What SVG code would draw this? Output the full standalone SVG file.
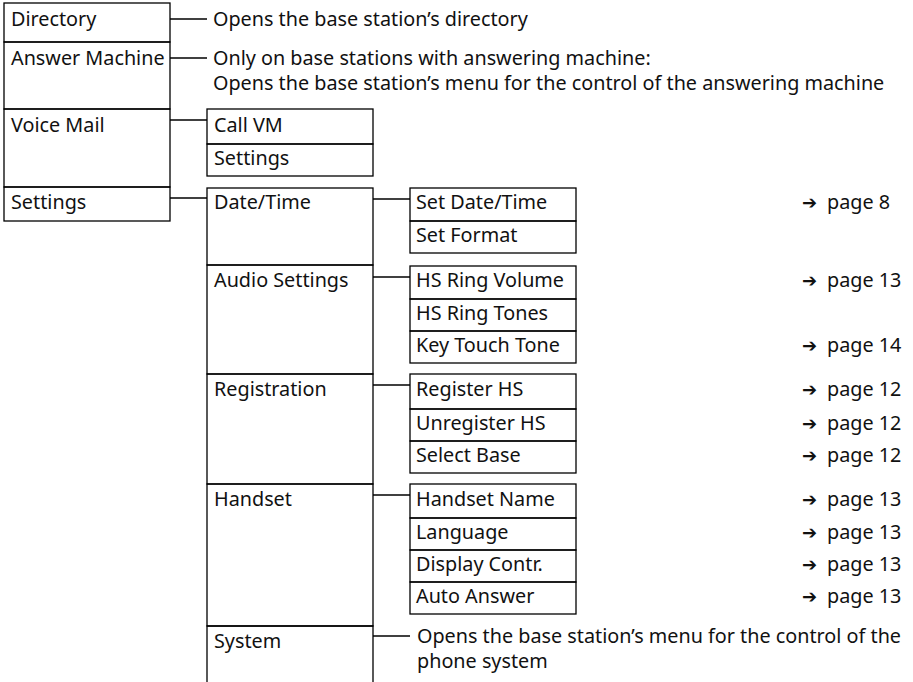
<svg xmlns="http://www.w3.org/2000/svg" width="913" height="682" viewBox="0 0 913 682">
<style>
.b{fill:none;stroke:#000;stroke-width:1.3}
.c line{stroke:#000;stroke-width:1.3}
text{font-family:"Noto Sans","Open Sans","DejaVu Sans",sans-serif;font-size:19.8px;fill:#111}
.a{font-family:"DejaVu Sans",sans-serif;font-size:18px}
</style>
<rect width="913" height="682" fill="#fff"/>
<g id="connectors" class="c">
<line x1="170" y1="19" x2="207" y2="19"/>
<line x1="170" y1="58" x2="207" y2="58"/>
<line x1="170" y1="120" x2="207" y2="120"/>
<line x1="170" y1="198" x2="207" y2="198"/>
<line x1="373" y1="199" x2="410" y2="199"/>
<line x1="373" y1="277" x2="410" y2="277"/>
<line x1="373" y1="385" x2="410" y2="385"/>
<line x1="373" y1="495" x2="410" y2="495"/>
<line x1="373" y1="636" x2="410" y2="636"/>
</g>
<g id="directory"><rect class="b" x="4" y="3" width="166" height="39"/><text x="11" y="26">Directory</text></g>
<g id="directory-desc"><text x="213" y="26">Opens the base station’s directory</text></g>
<g id="answer-machine"><rect class="b" x="4" y="42" width="166" height="67"/><text x="11" y="65">Answer Machine</text></g>
<g id="answer-machine-desc"><text x="213" y="65">Only on base stations with answering machine:</text><text x="213" y="90">Opens the base station’s menu for the control of the answering machine</text></g>
<g id="voice-mail"><rect class="b" x="4" y="109" width="166" height="78"/><text x="11" y="132">Voice Mail</text></g>
<g id="settings"><rect class="b" x="4" y="187" width="166" height="34"/><text x="11" y="209">Settings</text></g>
<g id="call-vm"><rect class="b" x="207" y="109" width="166" height="35"/><text x="214" y="132">Call VM</text></g>
<g id="vm-settings"><rect class="b" x="207" y="144" width="166" height="32"/><text x="214" y="165">Settings</text></g>
<g id="date-time"><rect class="b" x="207" y="188" width="166" height="77"/><text x="214" y="209">Date/Time</text></g>
<g id="audio-settings"><rect class="b" x="207" y="265" width="166" height="109"/><text x="214" y="287">Audio Settings</text></g>
<g id="registration"><rect class="b" x="207" y="374" width="166" height="110"/><text x="214" y="396">Registration</text></g>
<g id="handset"><rect class="b" x="207" y="484" width="166" height="142"/><text x="214" y="506">Handset</text></g>
<g id="system"><path class="b" d="M207,690 V626 H373 V690"/><text x="214" y="648">System</text></g>
<g id="system-desc"><text x="417" y="643">Opens the base station’s menu for the control of the</text><text x="417" y="668">phone system</text></g>
<g id="set-date-time"><rect class="b" x="410" y="188" width="166" height="33"/><text x="416" y="209">Set Date/Time</text><text x="802" y="209"><tspan class="a">➔</tspan><tspan x="827">page 8</tspan></text></g>
<g id="set-format"><rect class="b" x="410" y="221" width="166" height="32"/><text x="416" y="242">Set Format</text></g>
<g id="hs-ring-volume"><rect class="b" x="410" y="266" width="166" height="33"/><text x="416" y="287">HS Ring Volume</text><text x="802" y="287"><tspan class="a">➔</tspan><tspan x="827">page 13</tspan></text></g>
<g id="hs-ring-tones"><rect class="b" x="410" y="299" width="166" height="32"/><text x="416" y="320">HS Ring Tones</text></g>
<g id="key-touch-tone"><rect class="b" x="410" y="331" width="166" height="32"/><text x="416" y="352">Key Touch Tone</text><text x="802" y="352"><tspan class="a">➔</tspan><tspan x="827">page 14</tspan></text></g>
<g id="register-hs"><rect class="b" x="410" y="374" width="166" height="35"/><text x="416" y="396">Register HS</text><text x="802" y="396"><tspan class="a">➔</tspan><tspan x="827">page 12</tspan></text></g>
<g id="unregister-hs"><rect class="b" x="410" y="409" width="166" height="32"/><text x="416" y="430">Unregister HS</text><text x="802" y="430"><tspan class="a">➔</tspan><tspan x="827">page 12</tspan></text></g>
<g id="select-base"><rect class="b" x="410" y="441" width="166" height="32"/><text x="416" y="462">Select Base</text><text x="802" y="462"><tspan class="a">➔</tspan><tspan x="827">page 12</tspan></text></g>
<g id="handset-name"><rect class="b" x="410" y="484" width="166" height="34"/><text x="416" y="506">Handset Name</text><text x="802" y="506"><tspan class="a">➔</tspan><tspan x="827">page 13</tspan></text></g>
<g id="language"><rect class="b" x="410" y="518" width="166" height="32"/><text x="416" y="539">Language</text><text x="802" y="539"><tspan class="a">➔</tspan><tspan x="827">page 13</tspan></text></g>
<g id="display-contr"><rect class="b" x="410" y="550" width="166" height="32"/><text x="416" y="571">Display Contr.</text><text x="802" y="571"><tspan class="a">➔</tspan><tspan x="827">page 13</tspan></text></g>
<g id="auto-answer"><rect class="b" x="410" y="582" width="166" height="32"/><text x="416" y="603">Auto Answer</text><text x="802" y="603"><tspan class="a">➔</tspan><tspan x="827">page 13</tspan></text></g>
</svg>
